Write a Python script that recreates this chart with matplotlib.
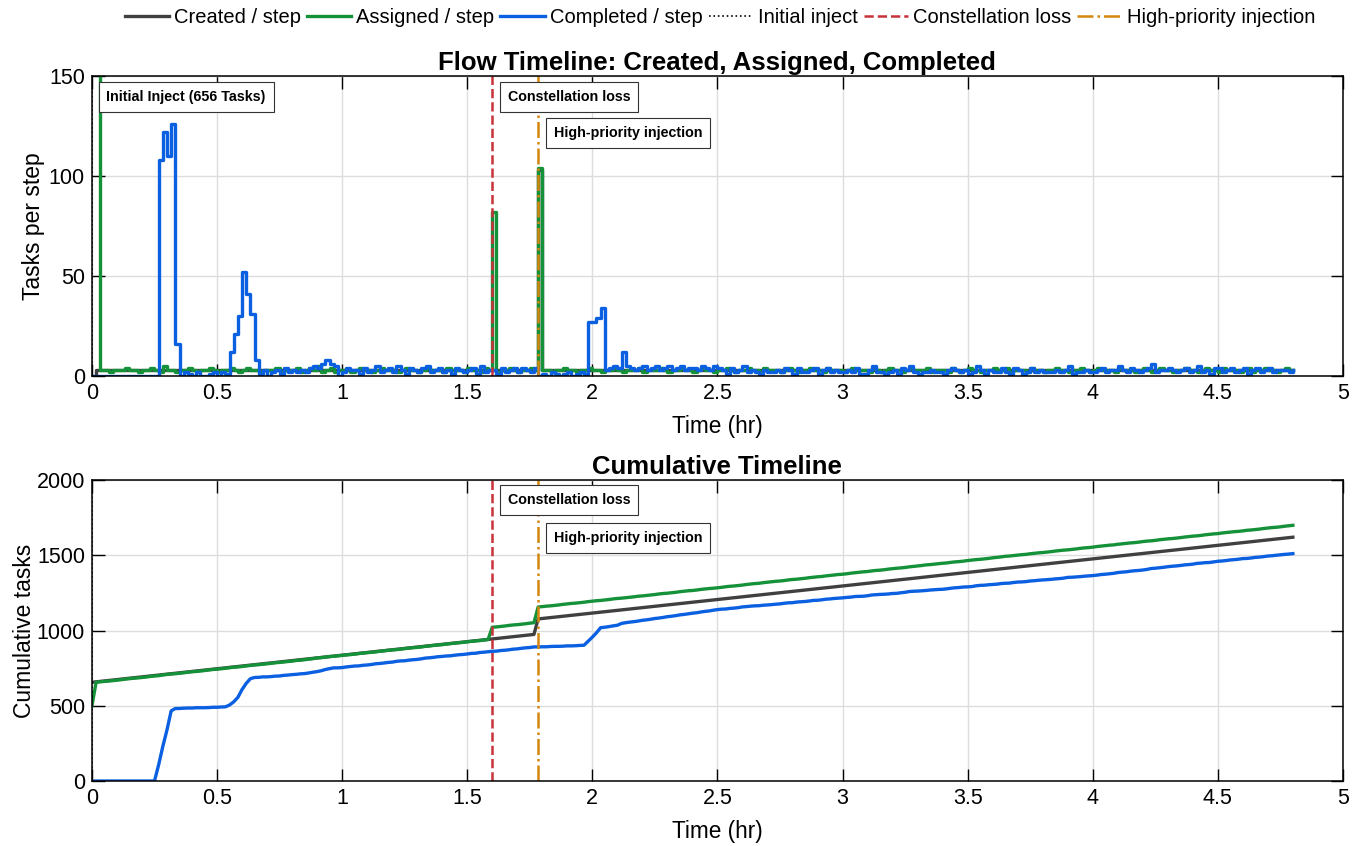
import numpy as np
import matplotlib
matplotlib.use("Agg")
import matplotlib.pyplot as plt

plt.rcParams['font.family'] = ['Liberation Sans', 'DejaVu Sans']

# one step = 1 minute
step_hr = 1 / 60
t_loss = 1.6
t_hp = 107 * step_hr
initial_inject = 656

# tasks created per step (initial inject at step 0, high-priority batch at step 107)
created_per_step = [656] + [3] * 106 + [103] + [3] * 181

# tasks assigned per step
assigned_per_step = (
    [500, 156]
    + [3, 3, 2, 3, 3, 3, 4, 3, 3, 2]
    + [3, 3, 4, 3, 2, 5, 3, 3, 2, 3]
    + [3, 4, 3, 2, 3, 3, 4, 3, 2, 3]
    + [3, 4, 3, 2, 3, 4, 3, 3, 2, 3]
    + [3, 3, 4, 2, 3, 3, 3, 4, 2, 3]
    + [4, 3, 5, 2, 3, 4, 2, 3, 3, 3]
    + [2, 3, 4, 3, 3, 2, 3, 4, 3, 3]
    + [3, 2, 3, 4, 3, 3, 2, 3, 4, 3]
    + [3, 3, 2, 4, 3, 3, 3, 2, 4, 3]
    + [3, 2, 4, 3]
    + [82]
    + [2, 3, 3, 4, 3, 2, 3, 3, 4, 3]
    + [104]
    + [3, 3, 2, 3, 3, 4, 3, 3, 2, 3]
    + [3, 4, 3, 3, 2, 3, 3, 4, 3, 2]
    + [3, 3, 3, 4, 2, 3, 3, 3, 4, 3]
    + [2, 3, 3, 4, 3, 3, 2, 3, 4, 3]
    + [3, 2, 3, 3, 4, 3, 2, 3, 3, 4]
    + [3, 3, 2, 4, 3, 3, 3, 2, 3, 4]
    + [3, 2, 3, 3, 4, 3, 3, 2, 4, 3]
    + [3, 3, 2, 3, 4, 3, 3, 3, 2, 4]
    + [3, 2, 3, 4, 3, 3, 2, 3, 4, 3]
    + [3, 3, 4, 2, 3, 3, 3, 2, 4, 3]
    + [2, 3, 4, 3, 3, 2, 3, 3, 4, 3]
    + [3, 4, 2, 3, 3, 3, 2, 4, 3, 3]
    + [2, 3, 3, 4, 3, 3, 2, 3, 3, 4]
    + [3, 2, 3, 4, 3, 3, 3, 2, 4, 3]
    + [3, 3, 2, 3, 4, 3, 2, 3, 4, 3]
    + [3, 2, 3, 3, 4, 3, 3, 2, 3, 4]
    + [3, 3, 2, 4, 3, 3, 3, 2, 3, 4]
    + [2, 3, 3, 4, 3, 3, 2, 3, 4, 3]
    + [3]
)

# tasks completed per step
completed_per_step = (
    [0] * 16
    + [108, 122, 110, 126, 16]
    + [0, 2, 1, 0, 2, 0, 0, 1, 2, 0, 2, 1]
    + [12, 21, 30, 52, 41, 31, 8]
    + [1, 3, 0, 2, 3, 1, 4, 2, 3, 2]
    + [3, 2, 4, 5, 4, 6, 8, 6, 5, 0]
    + [2, 4, 3, 3, 1, 4, 2, 3, 5, 2]
    + [3, 4, 2, 5, 3, 1, 4, 3, 2, 4]
    + [5, 2, 3, 4, 2, 3, 1, 4, 3, 2]
    + [3, 4, 1, 5, 2, 3]
    + [3, 1, 4, 2, 3, 4, 2, 4, 3, 2, 4]
    + [0, 1, 0, 2, 1, 0, 1, 2, 0, 1, 2, 1]
    + [27, 27, 29, 34]
    + [3, 4, 5, 4, 12, 5, 4, 3]
    + [4, 5, 3, 4, 5, 3, 4, 5, 3, 4]
    + [5, 3, 4, 4, 3, 5, 4, 3, 5, 4]
    + [3, 1, 4, 2, 3, 5, 2, 3, 2, 1]
    + [3, 2, 2, 3, 2, 4, 3, 1, 4, 2]
    + [2, 3, 4, 1, 3, 4, 2, 3, 2, 2]
    + [3, 2, 4, 1, 1, 3, 5, 2, 2, 1]
    + [2, 3, 1, 4, 3, 5, 2, 1, 2, 2]
    + [3, 2, 2, 1, 3, 4, 3, 2, 3, 1]
    + [2, 5, 3, 1, 3, 2, 2, 4, 2, 1]
    + [4, 3, 1, 2, 4, 2, 3, 2, 2, 2]
    + [3, 2, 3, 5, 1, 2, 2, 3, 2, 2]
    + [3, 4, 2, 3, 3, 5, 3, 2, 4, 3]
    + [2, 3, 4, 6, 2, 3, 3, 4, 3, 2]
    + [3, 4, 2, 3, 5, 2, 3, 1, 4, 4]
    + [2, 3, 4, 2, 3, 4, 1, 3, 4, 2]
    + [3, 4, 2, 3, 3, 3, 2, 3]
)

created = np.array(created_per_step)
assigned = np.array(assigned_per_step)
completed = np.array(completed_per_step)
t = np.arange(len(created)) * step_hr

# the per-step panel shows arrivals only; the initial inject is marked separately
created_flow = created.copy()
created_flow[0] -= initial_inject

c_created = '#404040'
c_assigned = '#15913a'
c_completed = '#0a60e0'
c_loss = '#c8323a'
c_hp = '#d4860f'

fig = plt.figure(figsize=(13.66, 8.46), dpi=100)
ax1 = fig.add_axes([0.0673, 0.5556, 0.9158, 0.3546])
ax2 = fig.add_axes([0.0673, 0.0768, 0.9158, 0.3558])

lw = 2.4
h1, = ax1.plot(t, created_flow, drawstyle='steps-post', color=c_created, lw=lw, label='Created / step')
h2, = ax1.plot(t, assigned, drawstyle='steps-post', color=c_assigned, lw=lw, label='Assigned / step')
h3, = ax1.plot(t, completed, drawstyle='steps-post', color=c_completed, lw=lw, label='Completed / step')

ax2.plot(t, np.cumsum(created), color=c_created, lw=lw)
ax2.plot(t, np.cumsum(assigned), color=c_assigned, lw=lw)
ax2.plot(t, np.cumsum(completed), color=c_completed, lw=lw)

for ax in (ax1, ax2):
    hi = ax.axvline(0, color='black', ls=':', lw=1.2, label='Initial inject')
    hl = ax.axvline(t_loss, color=c_loss, ls='--', lw=1.8, label='Constellation loss')
    hh = ax.axvline(t_hp, color=c_hp, ls='-.', lw=1.8, label='High-priority injection')
    ax.set_xlim(0, 5)
    ax.set_xticks(np.arange(0, 5.01, 0.5))
    ax.set_xticklabels(['0', '0.5', '1', '1.5', '2', '2.5', '3', '3.5', '4', '4.5', '5'])
    ax.grid(True, color='#dddddd', lw=1)
    ax.set_axisbelow(True)
    ax.tick_params(direction='in', length=9, width=1, labelsize=15.5,
                   top=True, right=True, pad=5)
    for s in ax.spines.values():
        s.set_linewidth(1.1)
    ax.set_xlabel('Time (hr)', fontsize=16.3, labelpad=8)

ax1.set_ylim(0, 150)
ax1.set_yticks([0, 50, 100, 150])
ax1.set_ylabel('Tasks per step', fontsize=16.5, labelpad=2.5)
ax1.set_title('Flow Timeline: Created, Assigned, Completed', fontsize=18.5, fontweight='bold', pad=4)

ax2.set_ylim(0, 2000)
ax2.set_yticks([0, 500, 1000, 1500, 2000])
ax2.set_ylabel('Cumulative tasks', fontsize=16.5, labelpad=0.5)
ax2.set_title('Cumulative Timeline', fontsize=18.5, fontweight='bold', pad=4)

box = dict(boxstyle='square,pad=0.55', fc='white', ec='#333333', lw=0.8)
ax1.text(0.058, 139.5, 'Initial Inject (%d Tasks)' % initial_inject, fontsize=10.3,
         fontweight='bold', va='center', ha='left', bbox=box)
ax1.text(t_loss + 0.062, 139.5, 'Constellation loss', fontsize=10.3,
         fontweight='bold', va='center', ha='left', bbox=box)
ax1.text(t_hp + 0.062, 121.5, 'High-priority injection', fontsize=10.3,
         fontweight='bold', va='center', ha='left', bbox=box)
ax2.text(t_loss + 0.062, 1867, 'Constellation loss', fontsize=10.3,
         fontweight='bold', va='center', ha='left', bbox=box)
ax2.text(t_hp + 0.062, 1615, 'High-priority injection', fontsize=10.3,
         fontweight='bold', va='center', ha='left', bbox=box)

fig.legend(handles=[h1, h2, h3, hi, hl, hh], loc='upper center',
           bbox_to_anchor=(0.527, 1.012), ncol=6, frameon=False, fontsize=14.5,
           handlelength=2.2, handletextpad=0.25, columnspacing=0.3)

fig.savefig('out.png', dpi=100)
